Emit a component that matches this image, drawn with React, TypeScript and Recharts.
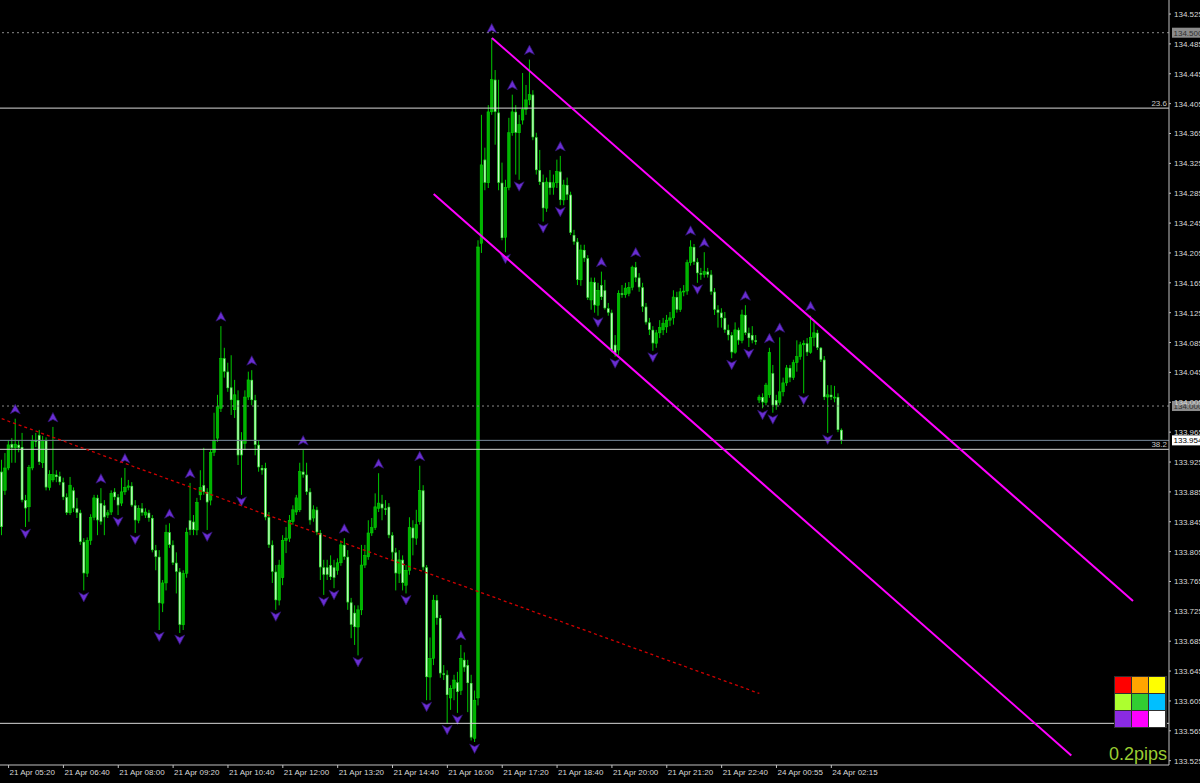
import { ComposedChart, Bar, XAxis, YAxis, ReferenceLine } from 'recharts'

// [open, high, low, close] per 5-minute bar
// 21 Apr 05:10 .. 16:40, the slow drift down
const sessionA: number[][] = [
  [133.912, 133.928, 133.827, 133.838], [133.887, 133.937, 133.881, 133.917], [133.917, 133.954, 133.914, 133.948], [133.949, 133.957, 133.924, 133.944],
  [133.944, 133.983, 133.924, 133.949], [133.948, 133.954, 133.938, 133.944], [133.945, 133.964, 133.871, 133.874], [133.874, 133.881, 133.838, 133.863],
  [133.865, 133.921, 133.845, 133.918], [133.917, 133.961, 133.914, 133.954], [133.954, 133.964, 133.945, 133.952], [133.961, 133.968, 133.921, 133.925],
  [133.924, 133.960, 133.917, 133.954], [133.954, 133.958, 133.887, 133.891], [133.891, 133.914, 133.887, 133.908], [133.901, 133.972, 133.898, 133.908],
  [133.908, 133.914, 133.898, 133.905], [133.906, 133.912, 133.894, 133.898], [133.898, 133.904, 133.874, 133.878], [133.878, 133.883, 133.854, 133.857],
  [133.857, 133.905, 133.854, 133.894], [133.887, 133.891, 133.858, 133.863], [133.863, 133.877, 133.850, 133.857], [133.857, 133.861, 133.814, 133.818],
  [133.818, 133.823, 133.753, 133.776], [133.776, 133.824, 133.771, 133.820], [133.820, 133.855, 133.814, 133.851], [133.851, 133.881, 133.847, 133.877],
  [133.877, 133.881, 133.827, 133.847], [133.870, 133.890, 133.841, 133.845], [133.867, 133.874, 133.827, 133.851], [133.854, 133.861, 133.850, 133.857],
  [133.858, 133.887, 133.854, 133.883], [133.885, 133.890, 133.874, 133.878], [133.878, 133.882, 133.854, 133.867], [133.870, 133.904, 133.866, 133.885],
  [133.885, 133.917, 133.881, 133.891], [133.891, 133.901, 133.887, 133.893], [133.893, 133.898, 133.865, 133.867], [133.867, 133.874, 133.830, 133.847],
  [133.847, 133.867, 133.843, 133.863], [133.863, 133.870, 133.853, 133.857], [133.854, 133.863, 133.850, 133.858], [133.857, 133.861, 133.845, 133.850],
  [133.850, 133.854, 133.804, 133.807], [133.807, 133.814, 133.780, 133.798], [133.798, 133.807, 133.700, 133.736], [133.736, 133.767, 133.724, 133.763],
  [133.763, 133.841, 133.753, 133.831], [133.831, 133.843, 133.810, 133.814], [133.814, 133.820, 133.787, 133.790], [133.790, 133.804, 133.749, 133.778],
  [133.778, 133.783, 133.696, 133.707], [133.707, 133.780, 133.700, 133.776], [133.776, 133.837, 133.770, 133.831], [133.847, 133.897, 133.827, 133.834],
  [133.845, 133.854, 133.827, 133.834], [133.834, 133.877, 133.827, 133.871], [133.881, 133.914, 133.874, 133.891], [133.894, 133.944, 133.881, 133.885],
  [133.885, 133.890, 133.834, 133.871], [133.874, 133.941, 133.867, 133.938], [133.938, 133.991, 133.933, 133.954], [133.957, 134.015, 133.952, 133.999],
  [133.997, 134.107, 133.992, 134.064], [134.064, 134.078, 134.038, 134.046], [134.046, 134.058, 134.019, 134.024], [134.025, 134.068, 133.988, 134.008],
  [133.995, 134.035, 133.984, 134.015], [134.008, 134.021, 133.921, 133.934], [133.954, 133.965, 133.881, 133.934], [133.950, 134.021, 133.941, 134.012],
  [134.012, 134.046, 134.008, 134.035], [134.035, 134.048, 134.001, 134.008], [134.008, 134.015, 133.934, 133.948], [133.948, 133.954, 133.912, 133.918],
  [133.917, 133.921, 133.908, 133.914], [133.917, 133.924, 133.847, 133.851], [133.851, 133.858, 133.810, 133.814], [133.814, 133.820, 133.763, 133.778],
  [133.778, 133.787, 133.727, 133.740], [133.740, 133.794, 133.733, 133.787], [133.770, 133.827, 133.760, 133.820], [133.820, 133.838, 133.803, 133.823],
  [133.823, 133.854, 133.818, 133.847], [133.845, 133.867, 133.841, 133.861], [133.858, 133.881, 133.854, 133.877], [133.861, 133.924, 133.858, 133.912],
  [133.912, 133.941, 133.904, 133.908], [133.908, 133.924, 133.881, 133.885], [133.885, 133.890, 133.841, 133.847], [133.850, 133.867, 133.845, 133.861],
  [133.861, 133.865, 133.827, 133.831], [133.830, 133.834, 133.767, 133.784], [133.784, 133.794, 133.747, 133.774], [133.784, 133.794, 133.767, 133.774],
  [133.787, 133.800, 133.767, 133.771], [133.784, 133.794, 133.756, 133.770], [133.780, 133.796, 133.774, 133.790], [133.790, 133.820, 133.786, 133.814],
  [133.814, 133.823, 133.794, 133.798], [133.798, 133.807, 133.727, 133.737], [133.737, 133.743, 133.689, 133.707], [133.723, 133.733, 133.680, 133.704],
  [133.704, 133.733, 133.666, 133.727], [133.727, 133.814, 133.720, 133.787], [133.787, 133.814, 133.783, 133.800], [133.798, 133.847, 133.794, 133.830],
  [133.830, 133.850, 133.826, 133.837], [133.837, 133.883, 133.834, 133.865], [133.863, 133.910, 133.858, 133.870], [133.869, 133.881, 133.847, 133.863],
  [133.863, 133.874, 133.854, 133.861], [133.865, 133.870, 133.823, 133.827], [133.827, 133.831, 133.794, 133.804], [133.804, 133.810, 133.753, 133.776],
  [133.776, 133.807, 133.763, 133.794], [133.794, 133.800, 133.753, 133.763], [133.760, 133.787, 133.749, 133.780], [133.780, 133.851, 133.774, 133.837],
  [133.837, 133.847, 133.800, 133.823], [133.823, 133.861, 133.814, 133.841], [133.845, 133.920, 133.841, 133.887], [133.887, 133.894, 133.780, 133.784],
  [133.784, 133.787, 133.606, 133.637], [133.637, 133.690, 133.606, 133.662], [133.662, 133.747, 133.653, 133.740], [133.740, 133.747, 133.707, 133.716],
  [133.716, 133.720, 133.636, 133.642], [133.642, 133.653, 133.633, 133.640], [133.640, 133.646, 133.575, 133.613], [133.609, 133.626, 133.593, 133.622],
  [133.622, 133.640, 133.606, 133.633], [133.630, 133.644, 133.589, 133.617], [133.619, 133.680, 133.613, 133.662], [133.660, 133.670, 133.644, 133.650],
  [133.653, 133.660, 133.590, 133.629], [133.629, 133.640, 133.552, 133.556], [133.555, 133.619, 133.550, 133.606],
]

// 21 Apr 16:45 .. Friday close, the spike and the falling channel
const sessionB: number[][] = [
  [133.609, 134.222, 133.599, 134.213], [134.218, 134.390, 134.205, 134.323], [134.330, 134.346, 134.289, 134.299], [134.299, 134.403, 134.292, 134.394],
  [134.394, 134.493, 134.390, 134.437], [134.437, 134.450, 134.350, 134.394], [134.393, 134.437, 134.289, 134.299], [134.299, 134.326, 134.222, 134.225],
  [134.226, 134.303, 134.206, 134.293], [134.293, 134.386, 134.289, 134.366], [134.366, 134.417, 134.362, 134.394], [134.394, 134.403, 134.310, 134.366],
  [134.366, 134.390, 134.303, 134.377], [134.383, 134.446, 134.377, 134.397], [134.397, 134.430, 134.390, 134.410], [134.410, 134.464, 134.403, 134.417],
  [134.417, 134.423, 134.356, 134.360], [134.360, 134.366, 134.310, 134.316], [134.316, 134.343, 134.296, 134.300], [134.300, 134.310, 134.247, 134.265],
  [134.265, 134.306, 134.260, 134.300], [134.300, 134.316, 134.283, 134.292], [134.293, 134.310, 134.283, 134.299], [134.299, 134.330, 134.292, 134.314],
  [134.314, 134.335, 134.269, 134.276], [134.276, 134.303, 134.269, 134.296], [134.296, 134.306, 134.276, 134.283], [134.283, 134.287, 134.229, 134.232],
  [134.229, 134.236, 134.216, 134.220], [134.220, 134.225, 134.162, 134.169], [134.169, 134.216, 134.161, 134.209], [134.209, 134.216, 134.193, 134.198],
  [134.198, 134.202, 134.142, 134.145], [134.142, 134.172, 134.129, 134.166], [134.166, 134.172, 134.125, 134.135], [134.135, 134.165, 134.121, 134.155],
  [134.162, 134.180, 134.142, 134.146], [134.155, 134.169, 134.129, 134.131], [134.131, 134.138, 134.121, 134.125], [134.125, 134.129, 134.072, 134.075],
  [134.082, 134.095, 134.066, 134.071], [134.075, 134.155, 134.068, 134.151], [134.151, 134.162, 134.145, 134.149], [134.149, 134.165, 134.145, 134.158],
  [134.151, 134.166, 134.147, 134.159], [134.159, 134.188, 134.155, 134.186], [134.186, 134.193, 134.166, 134.172], [134.172, 134.178, 134.153, 134.159],
  [134.159, 134.165, 134.126, 134.133], [134.133, 134.138, 134.109, 134.112], [134.112, 134.118, 134.095, 134.102], [134.102, 134.107, 134.074, 134.084],
  [134.084, 134.102, 134.078, 134.098], [134.098, 134.115, 134.091, 134.105], [134.102, 134.118, 134.095, 134.111], [134.106, 134.122, 134.098, 134.115],
  [134.115, 134.126, 134.107, 134.118], [134.118, 134.155, 134.109, 134.146], [134.146, 134.153, 134.125, 134.129], [134.129, 134.158, 134.126, 134.153],
  [134.153, 134.162, 134.147, 134.154], [134.154, 134.196, 134.149, 134.192], [134.192, 134.222, 134.188, 134.213], [134.213, 134.217, 134.189, 134.193],
  [134.193, 134.198, 134.165, 134.178], [134.178, 134.185, 134.169, 134.176], [134.176, 134.206, 134.172, 134.180], [134.180, 134.185, 134.172, 134.176],
  [134.176, 134.182, 134.149, 134.153], [134.153, 134.158, 134.122, 134.129], [134.129, 134.135, 134.105, 134.125], [134.125, 134.131, 134.105, 134.118],
  [134.118, 134.126, 134.098, 134.102], [134.102, 134.109, 134.088, 134.095], [134.095, 134.099, 134.064, 134.072], [134.072, 134.112, 134.070, 134.102],
  [134.102, 134.105, 134.082, 134.088], [134.088, 134.129, 134.084, 134.122], [134.122, 134.135, 134.095, 134.098], [134.098, 134.105, 134.079, 134.091],
  [134.095, 134.107, 134.084, 134.088], [134.088, 134.095, 134.082, 134.086],
]

// 24 Apr open after the weekend gap
const sessionC: number[][] = [
  [134.008, 134.015, 134.004, 134.012], [134.012, 134.017, 133.997, 134.005], [134.005, 134.031, 134.001, 134.028], [134.015, 134.078, 134.011, 134.072],
  [134.044, 134.055, 133.991, 134.001], [134.008, 134.015, 133.995, 134.001], [134.005, 134.092, 134.001, 134.019], [134.019, 134.038, 134.013, 134.031],
  [134.031, 134.055, 134.027, 134.051], [134.051, 134.055, 134.032, 134.038], [134.038, 134.062, 134.035, 134.058], [134.058, 134.088, 134.046, 134.066],
  [134.066, 134.086, 134.062, 134.082], [134.082, 134.088, 134.017, 134.084], [134.084, 134.091, 134.067, 134.072], [134.072, 134.121, 134.070, 134.092],
  [134.092, 134.112, 134.080, 134.098], [134.098, 134.102, 134.075, 134.078], [134.078, 134.079, 134.059, 134.062], [134.062, 134.067, 134.008, 134.012],
  [134.012, 134.028, 133.964, 134.015], [134.015, 134.028, 134.008, 134.012], [134.012, 134.027, 134.005, 134.012], [134.012, 134.017, 133.965, 133.968],
  [133.968, 133.970, 133.949, 133.954],
]

const fractalUp = [4, 15, 29, 36, 49, 55, 64, 73, 88, 100, 110, 122, 134, 143, 149, 154, 163, 175, 185, 201, 205, 217, 224, 227, 236]
const fractalDown = [7, 24, 34, 39, 46, 52, 60, 70, 80, 94, 97, 104, 118, 124, 130, 133, 138, 147, 151, 158, 163, 174, 179, 190, 203, 213, 218, 222, 225, 234, 241]

const timeLabels = [
  '21 Apr 05:20', '21 Apr 06:40', '21 Apr 08:00', '21 Apr 09:20', '21 Apr 10:40', '21 Apr 12:00', '21 Apr 13:20', '21 Apr 14:40',
  '21 Apr 16:00', '21 Apr 17:20', '21 Apr 18:40', '21 Apr 20:00', '21 Apr 21:20', '21 Apr 22:40', '24 Apr 00:55', '24 Apr 02:15',
]
const labelBars = [2, 18, 34, 50, 66, 82, 98, 114, 130, 146, 162, 178, 194, 210, 226, 242]

const priceTicks = [
  133.525, 133.565, 133.605, 133.645, 133.685, 133.725, 133.765, 133.805, 133.845, 133.885, 133.925, 133.965, 134.005,
  134.045, 134.085, 134.125, 134.165, 134.205, 134.245, 134.285, 134.325, 134.365, 134.405, 134.445, 134.485, 134.525,
]

const dottedLevels = [134.5, 134.0]
const fibLevels = [
  { price: 134.399, name: '23.6' },
  { price: 133.942, name: '38.2' },
  { price: 133.575, name: '0' },
]
const bidPrice = 133.954

const upperChannel = [{ x: 143, y: 134.493 }, { x: 330, y: 133.739 }]
const lowerChannel = [{ x: 126, y: 134.284 }, { x: 312, y: 133.532 }]
const redTrend = [{ x: 0, y: 133.983 }, { x: 221, y: 133.615 }]

const paletteColors = ['#ff0000', '#ffa500', '#ffff00', '#adff2f', '#32cd32', '#00bfff', '#8a2be2', '#ff00ff', '#ffffff']

const SLOTS = 341
const FONT = '"Liberation Sans", Arial, sans-serif'

const candles = [...sessionA, ...sessionB, ...sessionC]
const rows = Array.from({ length: SLOTS }, (_, i) => {
  const b = candles[i]
  if (!b) return { i, range: null }
  const [o, h, l, c] = b
  return { i, o, h, l, c, range: [l, h], fu: fractalUp.includes(i), fd: fractalDown.includes(i) }
})

function Candle(props: any) {
  const { x, y, width, height, payload } = props
  if (!payload || payload.h == null || !Number.isFinite(y)) return <g />
  const { o, h, l, c } = payload
  const top = Math.min(y, y + height)
  const k = Math.abs(height) / (h - l || 1)
  const yOf = (p: number) => top + (h - p) * k
  const cx = x + width / 2
  const bull = c >= o
  const bTop = yOf(Math.max(o, c))
  const bH = Math.max(1, yOf(Math.min(o, c)) - bTop)
  const hy = yOf(h)
  const ly = yOf(l)
  return (
    <g>
      <line x1={cx} x2={cx} y1={hy} y2={ly} stroke="#00c800" strokeWidth={1} />
      {bull ? (
        <rect x={cx - 1.3} y={bTop} width={2.6} height={bH} fill="#00b400" stroke="#00dc00" strokeWidth={0.5} />
      ) : (
        <>
          <rect x={cx - 1.3} y={bTop} width={2.6} height={bH} fill="#3ce63c" />
          {bH > 2 && <rect x={cx - 0.5} y={bTop + 0.8} width={1} height={bH - 1.6} fill="#d8ffd8" />}
        </>
      )}
      {payload.fu && (
        <path
          d={`M${cx},${hy - 14.5} L${cx + 5},${hy - 5} L${cx},${hy - 7.5} L${cx - 5},${hy - 5} Z`}
          fill="#6a2ed2"
          stroke="#2c1268"
          strokeWidth={0.7}
        />
      )}
      {payload.fd && (
        <path
          d={`M${cx},${ly + 11.5} L${cx + 5},${ly + 2} L${cx},${ly + 4.5} L${cx - 5},${ly + 2} Z`}
          fill="#6a2ed2"
          stroke="#2c1268"
          strokeWidth={0.7}
        />
      )}
    </g>
  )
}

function TimeTick({ x, y, payload }: any) {
  const n = labelBars.indexOf(payload.value)
  if (n < 0) return <g />
  return (
    <g>
      <line x1={x} x2={x} y1={y - 3} y2={y} stroke="#c0c0c0" />
      <text x={x + 1} y={y + 7} fill="#d8d8d8" fontSize={8} fontFamily={FONT}>
        {timeLabels[n]}
      </text>
    </g>
  )
}

function PriceTick({ x, y, payload }: any) {
  return (
    <g>
      <line x1={x - 5} x2={x - 3} y1={y} y2={y} stroke="#c0c0c0" />
      <text x={x} y={y + 3} fill="#d8d8d8" fontSize={8} fontFamily={FONT}>
        {Number(payload.value).toFixed(3)}
      </text>
    </g>
  )
}

function tag(text: string, bg: string, fg: string) {
  return (p: any) => {
    const vb = p.viewBox || {}
    const x = vb.x + vb.width + 3
    return (
      <g>
        <rect x={x} y={vb.y - 5} width={30} height={10} fill={bg} />
        <text x={x + 1.5} y={vb.y + 3} fill={fg} fontSize={8} fontFamily={FONT}>
          {text}
        </text>
      </g>
    )
  }
}

function fibText(text: string) {
  return (p: any) => {
    const vb = p.viewBox || {}
    return (
      <text x={vb.x + vb.width - 2} y={vb.y - 2} textAnchor="end" fill="#c8c8c8" fontSize={8} fontFamily={FONT}>
        {text}
      </text>
    )
  }
}

export default function App() {
  return (
    <div style={{ position: 'fixed', left: 0, top: 0, width: 1200, height: 783, background: '#000', overflow: 'hidden' }}>
      <ComposedChart width={1200} height={783} data={rows} margin={{ top: 0, right: 0, bottom: 0, left: 0 }} barCategoryGap={0}>
        <XAxis
          dataKey="i"
          type="category"
          interval={0}
          height={18}
          tick={<TimeTick />}
          tickLine={false}
          tickSize={3}
          tickMargin={0}
          axisLine={{ stroke: '#c0c0c0' }}
        />
        <YAxis
          orientation="right"
          type="number"
          width={31}
          domain={[133.5192, 134.5438]}
          allowDataOverflow
          ticks={priceTicks}
          interval={0}
          tick={<PriceTick />}
          tickLine={false}
          tickSize={3}
          tickMargin={2}
          axisLine={{ stroke: '#c0c0c0' }}
        />
        <Bar dataKey="range" isAnimationActive={false} shape={(p: any) => <Candle {...p} />} />
        {dottedLevels.map((p) => (
          <ReferenceLine
            key={p}
            y={p}
            stroke="#8a8a8a"
            strokeDasharray="2 3"
            label={tag(p.toFixed(3), '#8c8c8c', '#303030')}
          />
        ))}
        <ReferenceLine y={bidPrice} stroke="#778899" label={tag(bidPrice.toFixed(3), '#ffffff', '#000000')} />
        {fibLevels.map((f) => (
          <ReferenceLine key={f.name} y={f.price} stroke="#d8d8d8" label={fibText(f.name)} />
        ))}
        <ReferenceLine segment={redTrend} stroke="#d00000" strokeWidth={1.3} strokeDasharray="3 3" ifOverflow="visible" />
        <ReferenceLine segment={upperChannel} stroke="#ff00ff" strokeWidth={2} ifOverflow="visible" />
        <ReferenceLine segment={lowerChannel} stroke="#ff00ff" strokeWidth={2} ifOverflow="visible" />
      </ComposedChart>
      <svg width={1200} height={783} style={{ position: 'absolute', left: 0, top: 0, pointerEvents: 'none' }}>
        <rect x={1114} y={676} width={53} height={52} fill="#303030" />
        {paletteColors.map((c, n) => (
          <rect key={c} x={1115 + (n % 3) * 17} y={677 + Math.floor(n / 3) * 17} width={16} height={16} fill={c} />
        ))}
        <text x={1109} y={760} fill="#9acd32" fontSize={18} fontFamily={FONT}>
          0.2pips
        </text>
      </svg>
    </div>
  )
}
